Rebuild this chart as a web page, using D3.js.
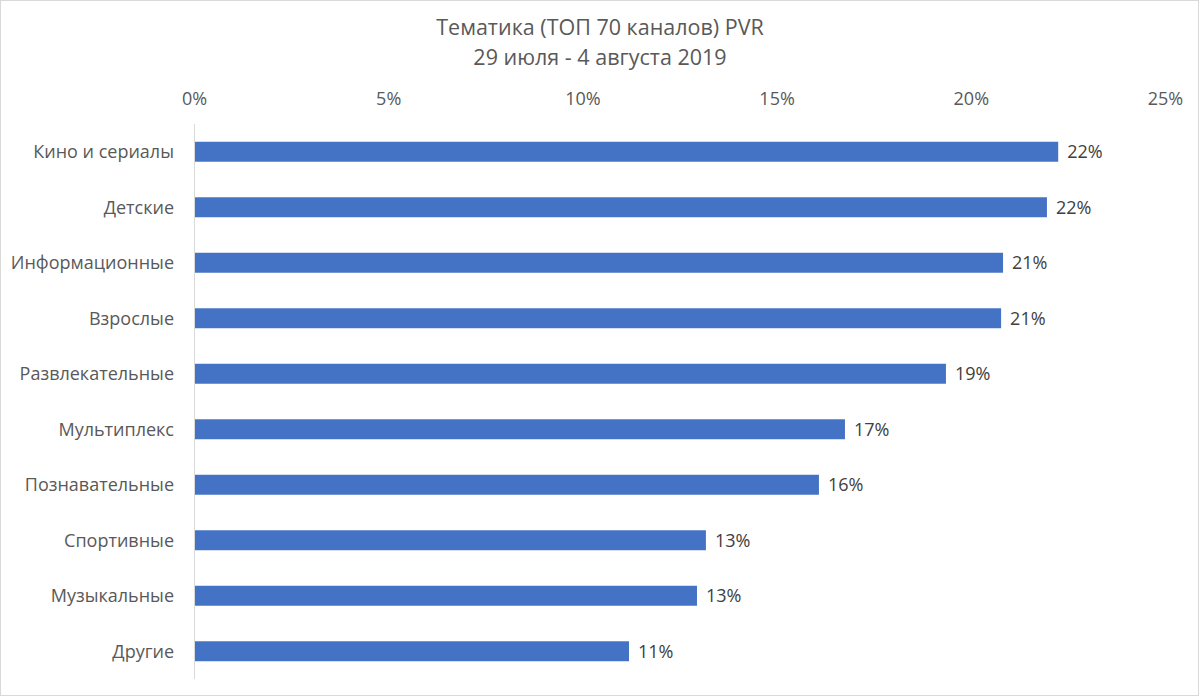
<!DOCTYPE html>
<html>
<head>
<meta charset="utf-8">
<script src="https://cdn.jsdelivr.net/npm/d3@7"></script>
<style>
  body { margin: 0; background: #fff; }
  svg { display: block; font-family: "Open Sans", sans-serif; }
</style>
</head>
<body>
<svg width="1200" height="697"></svg>
<script>
const titleLines = ["Тематика (ТОП 70 каналов) PVR", "29 июля - 4 августа 2019"];
const categories = [
  "Кино и сериалы", "Детские", "Информационные", "Взрослые", "Развлекательные",
  "Мультиплекс", "Познавательные", "Спортивные", "Музыкальные", "Другие"
];
const values = [22.25, 21.96, 20.83, 20.78, 19.36, 16.76, 16.09, 13.18, 12.95, 11.2];
const ticks = [0, 5, 10, 15, 20, 25];

const data = categories.map((c, i) => ({ name: c, value: values[i] }));

const svg = d3.select("svg");
const margin = { top: 124, right: 35, bottom: 18, left: 194 };
const width = 1200 - margin.left - margin.right;
const height = 697 - margin.top - margin.bottom;

// frame
svg.append("rect")
  .attr("x", 0.5).attr("y", 0.5)
  .attr("width", 1198).attr("height", 695)
  .attr("fill", "#fff").attr("stroke", "#d9d9d9");

const titles = svg.append("g").attr("fill", "#595959");
titleLines.forEach((t, i) => {
  titles.append("text")
    .attr("x", 600).attr("y", 35 + i * 30)
    .attr("text-anchor", "middle")
    .style("font-size", "21.5px")
    .text(t);
});

const g = svg.append("g")
  .attr("transform", `translate(${margin.left},${margin.top})`);

const x = d3.scaleLinear().domain([0, 25]).range([0, width]);
const y = d3.scaleBand().domain(categories).range([0, height])
  .paddingInner(0.64).paddingOuter(0.32);

// top axis labels
const xAxis = g.append("g")
  .call(d3.axisTop(x).tickValues(ticks).tickFormat(d => d + "%").tickSize(0).tickPadding(19));
xAxis.select(".domain").remove();
xAxis.selectAll("text")
  .attr("fill", "#595959")
  .style("font-size", "18px")
  .style("font-family", "'Open Sans', sans-serif");

// bars
g.selectAll(".bar")
  .data(data)
  .enter().append("rect")
  .attr("class", "bar")
  .attr("x", 0)
  .attr("y", d => y(d.name))
  .attr("width", d => x(d.value))
  .attr("height", y.bandwidth())
  .attr("fill", "#4472C4");

// vertical axis line
g.append("line")
  .attr("x1", 0.5).attr("x2", 0.5)
  .attr("y1", 0).attr("y2", height)
  .attr("stroke", "#d9d9d9");

// category labels
g.selectAll(".cat")
  .data(data)
  .enter().append("text")
  .attr("class", "cat")
  .attr("x", -20)
  .attr("y", d => y(d.name) + y.bandwidth() / 2)
  .attr("dy", "0.35em")
  .attr("text-anchor", "end")
  .attr("fill", "#595959")
  .style("font-size", "18px")
  .text(d => d.name);

// value labels
g.selectAll(".val")
  .data(data)
  .enter().append("text")
  .attr("class", "val")
  .attr("x", d => x(d.value) + 9)
  .attr("y", d => y(d.name) + y.bandwidth() / 2)
  .attr("dy", "0.35em")
  .attr("fill", "#404040")
  .style("font-size", "18px")
  .text(d => Math.round(d.value) + "%");
</script>
</body>
</html>
